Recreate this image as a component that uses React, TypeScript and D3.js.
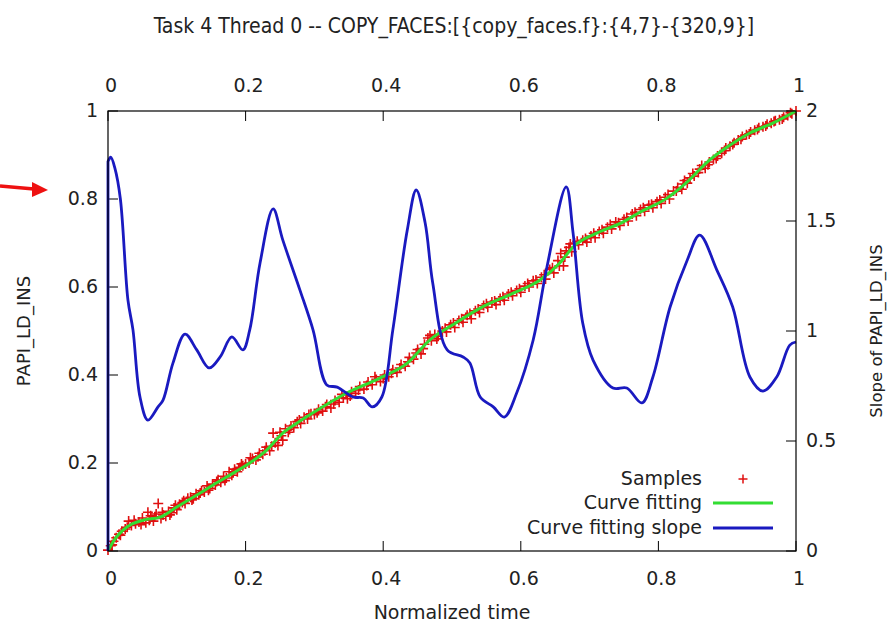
import React from "react";
import * as d3 from "d3";

const title = "Task 4 Thread 0 -- COPY_FACES:[{copy_faces.f}:{4,7}-{320,9}]";
const xTicks = [0, 0.2, 0.4, 0.6, 0.8, 1];
const yTicks = [0, 0.2, 0.4, 0.6, 0.8, 1];
const y2Ticks = [0, 0.5, 1, 1.5, 2];

// Curve fitting (left axis)
const fitT = [0, 0.003, 0.007, 0.028, 0.051, 0.076, 0.1, 0.134, 0.158, 0.182, 0.206, 0.231, 0.254, 0.275, 0.298, 0.347, 0.395, 0.435, 0.468, 0.501, 0.541, 0.589, 0.628, 0.657, 0.676, 0.711, 0.749, 0.773, 0.8125, 0.842, 0.871, 0.9, 0.933, 0.967, 1.0];
const fitV = [0, 0.009, 0.02, 0.055, 0.07, 0.077, 0.1, 0.132, 0.155, 0.177, 0.2, 0.23, 0.268, 0.291, 0.314, 0.359, 0.393, 0.427, 0.48, 0.514, 0.552, 0.586, 0.616, 0.655, 0.691, 0.723, 0.748, 0.77, 0.802, 0.839, 0.884, 0.918, 0.95, 0.973, 1.0];

// Curve fitting slope (right axis)
const slopeT = [0, 0.004, 0.01, 0.018, 0.029, 0.0363, 0.0465, 0.058, 0.0727, 0.08, 0.0945, 0.112, 0.129, 0.147, 0.163, 0.18, 0.196, 0.206, 0.221, 0.24, 0.254, 0.279, 0.298, 0.318, 0.333, 0.356, 0.371, 0.384, 0.398, 0.414, 0.435, 0.448, 0.461, 0.472, 0.493, 0.516, 0.526, 0.541, 0.56, 0.576, 0.594, 0.618, 0.638, 0.666, 0.676, 0.69, 0.705, 0.734, 0.754, 0.776, 0.792, 0.817, 0.842, 0.86, 0.885, 0.908, 0.933, 0.952, 0.972, 0.991, 1.0];
const slopeV = [1.77, 1.79, 1.74, 1.6, 1.14, 1.005, 0.7, 0.595, 0.655, 0.686, 0.855, 0.986, 0.914, 0.832, 0.882, 0.973, 0.914, 1.005, 1.309, 1.555, 1.414, 1.186, 1.005, 0.755, 0.745, 0.7, 0.695, 0.655, 0.7, 1.005, 1.459, 1.641, 1.491, 1.218, 0.914, 0.882, 0.855, 0.7, 0.655, 0.609, 0.718, 0.959, 1.291, 1.655, 1.445, 1.036, 0.868, 0.741, 0.741, 0.673, 0.791, 1.109, 1.323, 1.436, 1.277, 1.109, 0.791, 0.727, 0.791, 0.936, 0.95];

// Samples (left axis)
const samples: [number, number][] = [
  [0.0, 0.002], [0.004, 0.012], [0.008, 0.022], [0.012, 0.03], [0.016, 0.038], [0.02, 0.045], [0.025, 0.05], [0.03, 0.068], [0.034, 0.058], [0.04, 0.062],
  [0.045, 0.066], [0.05, 0.075], [0.055, 0.064], [0.058, 0.088], [0.062, 0.08], [0.066, 0.068], [0.07, 0.084], [0.073, 0.108], [0.077, 0.074], [0.08, 0.082],
  [0.084, 0.079], [0.088, 0.09], [0.092, 0.087], [0.096, 0.098], [0.1, 0.094], [0.104, 0.106], [0.108, 0.11], [0.112, 0.108], [0.116, 0.12], [0.12, 0.122],
  [0.124, 0.119], [0.128, 0.13], [0.132, 0.128], [0.136, 0.137], [0.14, 0.134], [0.144, 0.148], [0.148, 0.142], [0.152, 0.152], [0.156, 0.15], [0.16, 0.162],
  [0.164, 0.156], [0.168, 0.17], [0.172, 0.166], [0.176, 0.18], [0.18, 0.172], [0.184, 0.186], [0.188, 0.18], [0.192, 0.19], [0.196, 0.194], [0.2, 0.198],
  [0.205, 0.2], [0.21, 0.21], [0.215, 0.207], [0.22, 0.222], [0.225, 0.22], [0.23, 0.236], [0.235, 0.228], [0.24, 0.268], [0.243, 0.246], [0.247, 0.24],
  [0.25, 0.27], [0.254, 0.252], [0.258, 0.278], [0.262, 0.27], [0.266, 0.284], [0.27, 0.28], [0.275, 0.294], [0.28, 0.29], [0.285, 0.304], [0.29, 0.3],
  [0.295, 0.312], [0.3, 0.31], [0.306, 0.322], [0.312, 0.318], [0.318, 0.333], [0.324, 0.325], [0.33, 0.342], [0.336, 0.338], [0.342, 0.348], [0.348, 0.346],
  [0.354, 0.362], [0.36, 0.358], [0.366, 0.374], [0.372, 0.368], [0.378, 0.384], [0.384, 0.378], [0.39, 0.39], [0.396, 0.385], [0.402, 0.4], [0.408, 0.396],
  [0.414, 0.412], [0.42, 0.406], [0.426, 0.424], [0.432, 0.42], [0.438, 0.44], [0.444, 0.436], [0.45, 0.458], [0.455, 0.448], [0.46, 0.47], [0.465, 0.484],
  [0.47, 0.478], [0.475, 0.492], [0.48, 0.488], [0.486, 0.5], [0.492, 0.498], [0.498, 0.514], [0.504, 0.508], [0.51, 0.524], [0.516, 0.52], [0.522, 0.536],
  [0.528, 0.528], [0.534, 0.546], [0.54, 0.542], [0.546, 0.558], [0.552, 0.554], [0.558, 0.566], [0.564, 0.56], [0.57, 0.574], [0.576, 0.57], [0.582, 0.584],
  [0.588, 0.58], [0.594, 0.592], [0.6, 0.588], [0.606, 0.602], [0.612, 0.6], [0.618, 0.614], [0.624, 0.608], [0.63, 0.622], [0.636, 0.618], [0.642, 0.64],
  [0.648, 0.632], [0.654, 0.66], [0.658, 0.676], [0.662, 0.648], [0.666, 0.682], [0.67, 0.69], [0.674, 0.68], [0.678, 0.7], [0.684, 0.696], [0.69, 0.706],
  [0.696, 0.702], [0.702, 0.716], [0.708, 0.712], [0.714, 0.726], [0.72, 0.722], [0.726, 0.736], [0.732, 0.732], [0.738, 0.748], [0.744, 0.74], [0.75, 0.754],
  [0.756, 0.75], [0.762, 0.766], [0.768, 0.762], [0.774, 0.776], [0.78, 0.772], [0.786, 0.786], [0.792, 0.78], [0.798, 0.794], [0.804, 0.79], [0.81, 0.804],
  [0.816, 0.8], [0.822, 0.818], [0.828, 0.826], [0.834, 0.822], [0.838, 0.842], [0.842, 0.836], [0.846, 0.848], [0.852, 0.852], [0.858, 0.86], [0.863, 0.876],
  [0.868, 0.87], [0.874, 0.884], [0.88, 0.89], [0.886, 0.898], [0.892, 0.904], [0.898, 0.916], [0.904, 0.92], [0.91, 0.928], [0.916, 0.934], [0.922, 0.942],
  [0.928, 0.946], [0.934, 0.952], [0.94, 0.956], [0.946, 0.962], [0.952, 0.964], [0.958, 0.97], [0.964, 0.972], [0.97, 0.978], [0.976, 0.98], [0.982, 0.986],
  [0.988, 0.99], [0.994, 0.994], [1.0, 1.0],
  [0.006, 0.014], [0.018, 0.036], [0.028, 0.054], [0.038, 0.07], [0.048, 0.06], [0.06, 0.07], [0.068, 0.078], [0.079, 0.088], [0.09, 0.082], [0.098, 0.104],
  [0.11, 0.114], [0.122, 0.116], [0.134, 0.132], [0.146, 0.138], [0.158, 0.158], [0.17, 0.16], [0.182, 0.178], [0.194, 0.198], [0.207, 0.212], [0.218, 0.214],
  [0.228, 0.228], [0.238, 0.238], [0.252, 0.262], [0.264, 0.276], [0.278, 0.298], [0.292, 0.31], [0.304, 0.314], [0.316, 0.328], [0.328, 0.334], [0.34, 0.356],
  [0.352, 0.352], [0.364, 0.366], [0.376, 0.376], [0.388, 0.396], [0.4, 0.392], [0.412, 0.404], [0.424, 0.416], [0.436, 0.43], [0.448, 0.45], [0.458, 0.46],
  [0.468, 0.49], [0.478, 0.482], [0.49, 0.506], [0.502, 0.518], [0.514, 0.528], [0.526, 0.54], [0.538, 0.55], [0.55, 0.562], [0.562, 0.568], [0.574, 0.578],
  [0.586, 0.588], [0.598, 0.596], [0.61, 0.608], [0.622, 0.616], [0.634, 0.628], [0.646, 0.644], [0.656, 0.648], [0.664, 0.668], [0.672, 0.698], [0.682, 0.704],
  [0.694, 0.71], [0.706, 0.722], [0.718, 0.73], [0.73, 0.742], [0.742, 0.746], [0.754, 0.758], [0.766, 0.77], [0.778, 0.78], [0.79, 0.788], [0.802, 0.798],
  [0.814, 0.81], [0.826, 0.818], [0.836, 0.834], [0.85, 0.858], [0.86, 0.868], [0.872, 0.878], [0.884, 0.892], [0.896, 0.91], [0.908, 0.924], [0.92, 0.936],
  [0.932, 0.948], [0.944, 0.958], [0.956, 0.966], [0.968, 0.976], [0.98, 0.982], [0.992, 0.996],
];

const legendLabels = ["Samples", "Curve fitting", "Curve fitting slope"];

const W = 887, H = 623;
const L = 108, R = 796, T = 111, B = 551;
const FONT = "'DejaVu Sans', sans-serif";
const RED = "#e01010";
const GREEN = "#33dd33";
const BLUE = "#1a1ac0";

export default function App() {
  const x = d3.scaleLinear().domain([0, 1]).range([L, R]);
  const y = d3.scaleLinear().domain([0, 1]).range([B, T]);
  const y2 = d3.scaleLinear().domain([0, 2]).range([B, T]);

  const fitLine = d3.line<number>().x((_, i) => x(fitT[i])).y((d) => y(d)).curve(d3.curveMonotoneX);
  const slopeLine = d3.line<number>().x((_, i) => x(slopeT[i])).y((d) => y2(d)).curve(d3.curveCatmullRom.alpha(0.5));
  const slopePath = `M${x(0)},${y2(0)}L` + (slopeLine(slopeV) || "").slice(1);

  const plus = (cx: number, cy: number, s: number) => `M${cx - s},${cy}H${cx + s}M${cx},${cy - s}V${cy + s}`;
  const sampPath = samples.map(([t, v]) => plus(x(t), y(v), 5)).join("");

  const legendX = 702;
  const legendY = [479, 503, 528];

  return (
    <svg width={W} height={H} style={{ position: "absolute", left: 0, top: 0, background: "#fff" }} fontFamily={FONT}>
      <rect x={0} y={0} width={W} height={H} fill="#fff" />
      <text x={454} y={33} textAnchor="middle" fontSize={21} fontFamily="'DejaVu Sans Condensed', 'DejaVu Sans', sans-serif" fill="#222" style={{ fontStretch: "condensed" }}>{title}</text>

      {/* ticks */}
      {xTicks.map((t) => (
        <g key={"x" + t}>
          <line x1={x(t)} x2={x(t)} y1={B} y2={B - 10} stroke="#000" />
          <line x1={x(t)} x2={x(t)} y1={T} y2={T + 10} stroke="#000" />
          <text x={x(t) + 3} y={585} textAnchor="middle" fontSize={19} fill="#222">{t}</text>
          <text x={x(t) + 3} y={92} textAnchor="middle" fontSize={19} fill="#222">{t}</text>
        </g>
      ))}
      {yTicks.map((t) => (
        <g key={"y" + t}>
          <line x1={L} x2={L + 10} y1={y(t)} y2={y(t)} stroke="#000" />
          <text x={98} y={y(t) + 6} textAnchor="end" fontSize={19} fill="#222">{t}</text>
        </g>
      ))}
      {y2Ticks.map((t) => (
        <g key={"y2" + t}>
          <line x1={R} x2={R - 10} y1={y2(t)} y2={y2(t)} stroke="#000" />
          <text x={806} y={y2(t) + 6} textAnchor="start" fontSize={19} fill="#222">{t}</text>
        </g>
      ))}

      <text x={452} y={619} textAnchor="middle" fontSize={19} fill="#222">Normalized time</text>
      <text transform={`translate(30,331) rotate(-90)`} textAnchor="middle" fontSize={18} fill="#222">PAPI_LD_INS</text>
      <text transform={`translate(882,331) rotate(-90)`} textAnchor="middle" fontSize={16.5} fill="#222">Slope of PAPI_LD_INS</text>

      {/* data */}
      <path d={sampPath} stroke={RED} strokeWidth={1.6} fill="none" />
      <path d={fitLine(fitV) || ""} stroke={GREEN} strokeWidth={3} fill="none" />
      <path d={slopePath} stroke={BLUE} strokeWidth={2.8} fill="none" strokeLinejoin="round" />

      <rect x={L} y={T} width={R - L} height={B - T} fill="none" stroke="#000" strokeWidth={1.2} />

      {/* legend */}
      {legendLabels.map((s, i) => (
        <text key={s} x={legendX} y={legendY[i] + 6} textAnchor="end" fontSize={19} fill="#222">{s}</text>
      ))}
      <path d={plus(743, legendY[0], 4.5)} stroke={RED} strokeWidth={1.5} />
      <line x1={713} x2={773} y1={legendY[1]} y2={legendY[1]} stroke={GREEN} strokeWidth={3} />
      <line x1={713} x2={773} y1={legendY[2]} y2={legendY[2]} stroke={BLUE} strokeWidth={3} />

      {/* red annotation arrow */}
      <line x1={0} y1={186} x2={34} y2={189} stroke="#ee1111" strokeWidth={3.5} />
      <path d="M48,190 L32,182 L32,197 Z" fill="#ee1111" />
    </svg>
  );
}
